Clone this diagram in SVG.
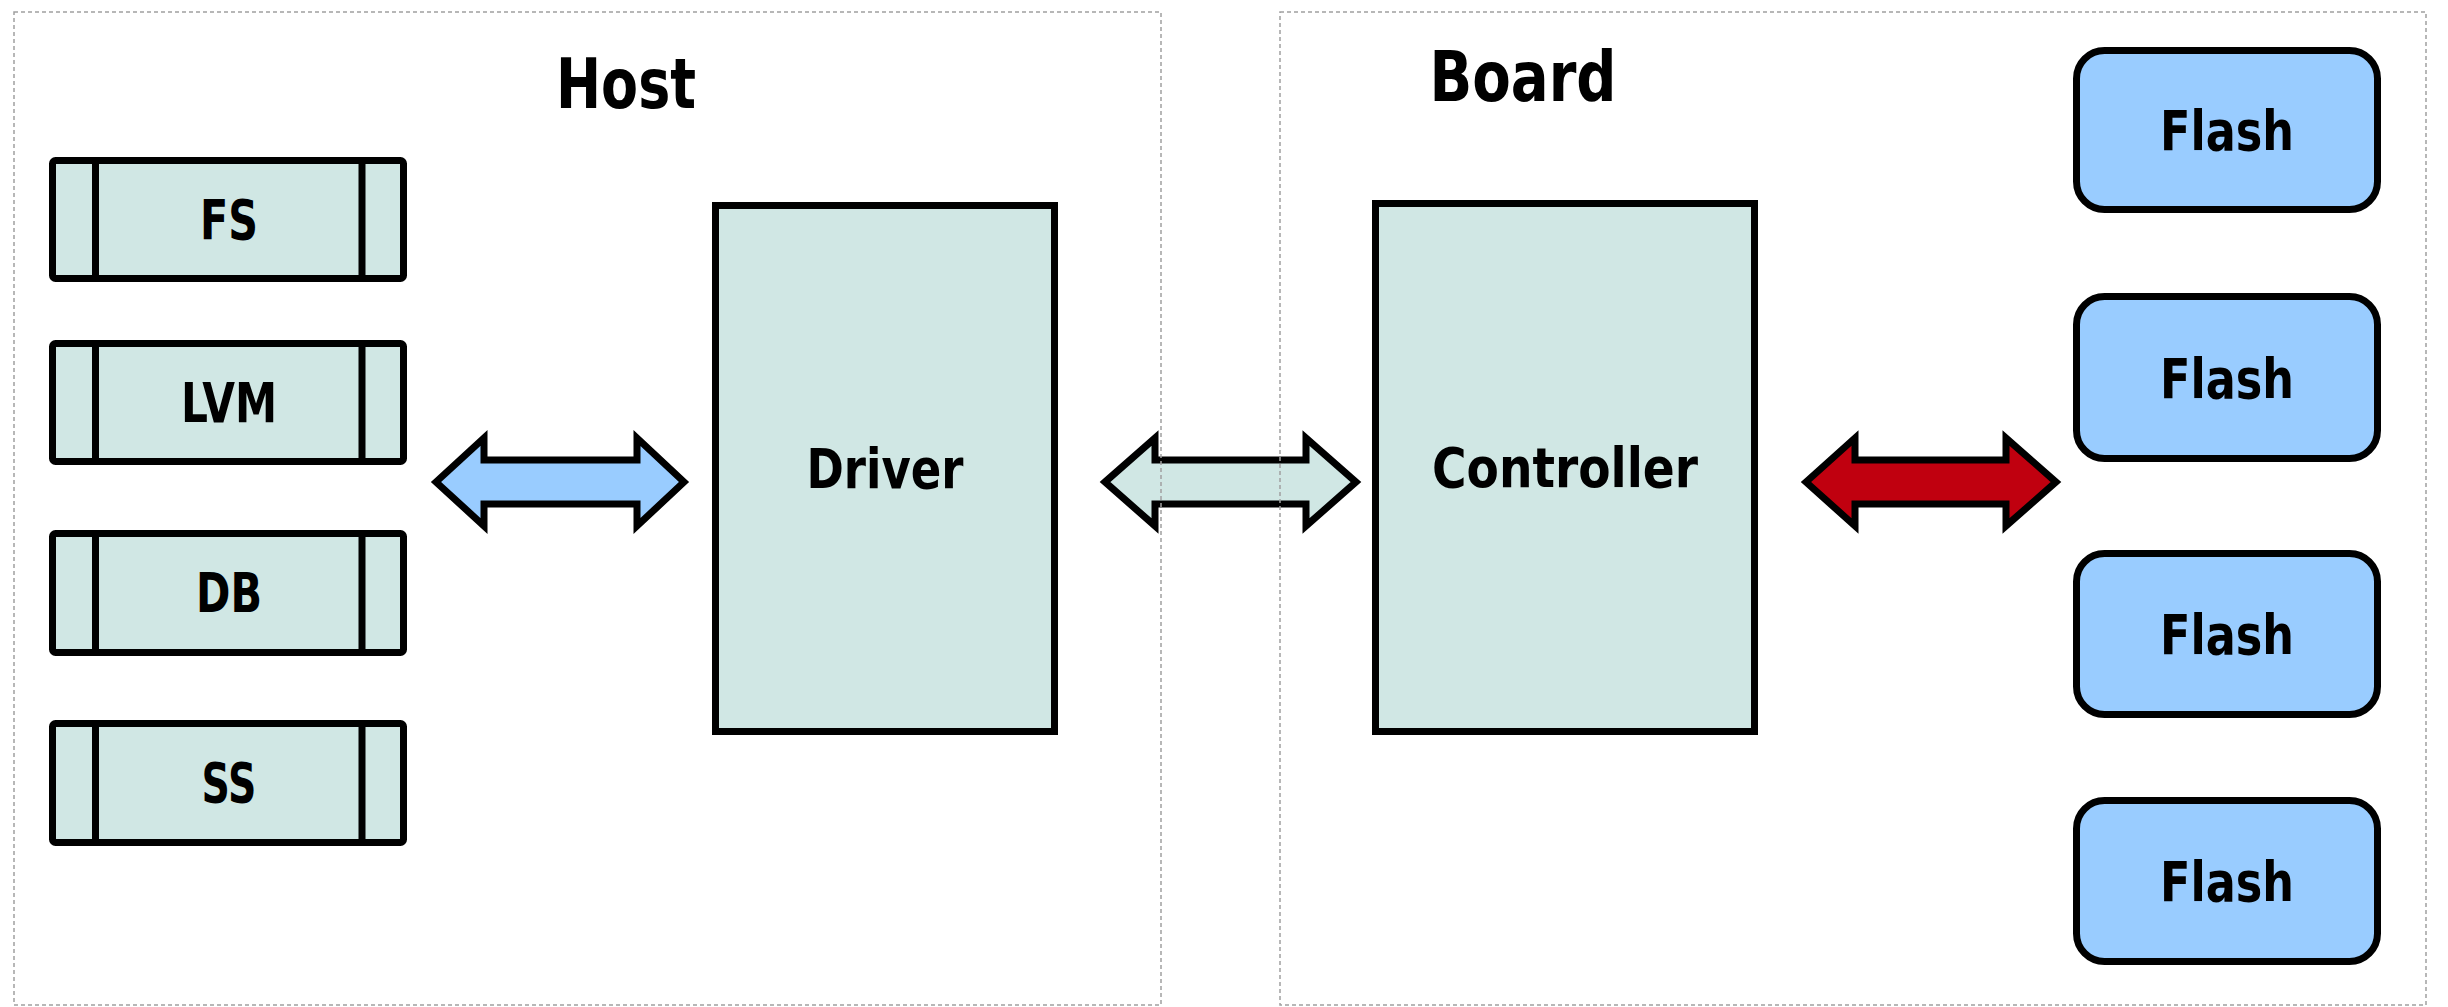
<svg xmlns="http://www.w3.org/2000/svg" width="2448" height="1007" viewBox="0 0 2448 1007">
<style>
.panel{fill:none;stroke:#a0a0a0;stroke-width:1.5;stroke-dasharray:4 3}
.box{fill:#d0e7e4;stroke:#000;stroke-width:7}
.flash{fill:#99ccff;stroke:#000;stroke-width:7}
.bar{stroke:#000;stroke-width:7}
.lbl{font-family:"DejaVu Sans","Liberation Sans",sans-serif;font-weight:bold;font-size:55px;fill:#000;text-anchor:middle}
.title{font-family:"DejaVu Sans","Liberation Sans",sans-serif;font-weight:bold;font-size:69px;fill:#000;text-anchor:middle}
.arrow{stroke:#000;stroke-width:7;stroke-linejoin:miter}
</style>
<rect width="2448" height="1007" fill="#fff"/>
<g id="host-panel">
<text class="title" x="626" y="108" textLength="140" lengthAdjust="spacingAndGlyphs">Host</text>
</g>
<g id="board-panel">
<text class="title" x="1523" y="101" textLength="187" lengthAdjust="spacingAndGlyphs">Board</text>
</g>
<g id="fs">
<rect class="box" x="52.5" y="160.5" width="351" height="118" rx="3"/>
<line class="bar" x1="95.5" y1="160.5" x2="95.5" y2="278.5"/>
<line class="bar" x1="362" y1="160.5" x2="362" y2="278.5"/>
<text class="lbl" x="229" y="239" textLength="58" lengthAdjust="spacingAndGlyphs">FS</text>
</g>
<g id="lvm">
<rect class="box" x="52.5" y="343.5" width="351" height="118" rx="3"/>
<line class="bar" x1="95.5" y1="343.5" x2="95.5" y2="461.5"/>
<line class="bar" x1="362" y1="343.5" x2="362" y2="461.5"/>
<text class="lbl" x="229" y="422" textLength="96" lengthAdjust="spacingAndGlyphs">LVM</text>
</g>
<g id="db">
<rect class="box" x="52.5" y="533.5" width="351" height="119" rx="3"/>
<line class="bar" x1="95.5" y1="533.5" x2="95.5" y2="652.5"/>
<line class="bar" x1="362" y1="533.5" x2="362" y2="652.5"/>
<text class="lbl" x="229" y="612" textLength="66" lengthAdjust="spacingAndGlyphs">DB</text>
</g>
<g id="ss">
<rect class="box" x="52.5" y="723.5" width="351" height="119" rx="3"/>
<line class="bar" x1="95.5" y1="723.5" x2="95.5" y2="842.5"/>
<line class="bar" x1="362" y1="723.5" x2="362" y2="842.5"/>
<text class="lbl" x="229" y="802" textLength="55" lengthAdjust="spacingAndGlyphs">SS</text>
</g>
<g id="driver">
<rect class="box" x="715.5" y="205.5" width="339" height="526"/>
<text class="lbl" x="885" y="488" textLength="157" lengthAdjust="spacingAndGlyphs">Driver</text>
</g>
<g id="controller">
<rect class="box" x="1375.5" y="203.5" width="379" height="528"/>
<text class="lbl" x="1565" y="487" textLength="266" lengthAdjust="spacingAndGlyphs">Controller</text>
</g>
<g id="flash1">
<rect class="flash" x="2076.5" y="50.5" width="301" height="159" rx="28"/>
<text class="lbl" x="2227" y="150" textLength="134" lengthAdjust="spacingAndGlyphs">Flash</text>
</g>
<g id="flash2">
<rect class="flash" x="2076.5" y="296.5" width="301" height="162" rx="28"/>
<text class="lbl" x="2227" y="398" textLength="134" lengthAdjust="spacingAndGlyphs">Flash</text>
</g>
<g id="flash3">
<rect class="flash" x="2076.5" y="553.5" width="301" height="161" rx="28"/>
<text class="lbl" x="2227" y="654" textLength="134" lengthAdjust="spacingAndGlyphs">Flash</text>
</g>
<g id="flash4">
<rect class="flash" x="2076.5" y="800.5" width="301" height="161" rx="28"/>
<text class="lbl" x="2227" y="901" textLength="134" lengthAdjust="spacingAndGlyphs">Flash</text>
</g>
<g id="connectors">
<path class="arrow" fill="#99ccff" d="M436,482 L484,438 L484,460 L637,460 L637,438 L684,482 L637,526 L637,504 L484,504 L484,526 Z"/>
<path class="arrow" fill="#d0e7e4" d="M1105,482 L1155,438 L1155,460 L1306,460 L1306,438 L1356,482 L1306,526 L1306,504 L1155,504 L1155,526 Z"/>
<path class="arrow" fill="#c0000f" d="M1806,482 L1855,438 L1855,460 L2006,460 L2006,438 L2056,482 L2006,526 L2006,504 L1855,504 L1855,526 Z"/>
</g>
<g id="frames">
<rect class="panel" x="14" y="12" width="1147" height="993"/>
<rect class="panel" x="1280" y="12" width="1146" height="993"/>
</g>
</svg>
